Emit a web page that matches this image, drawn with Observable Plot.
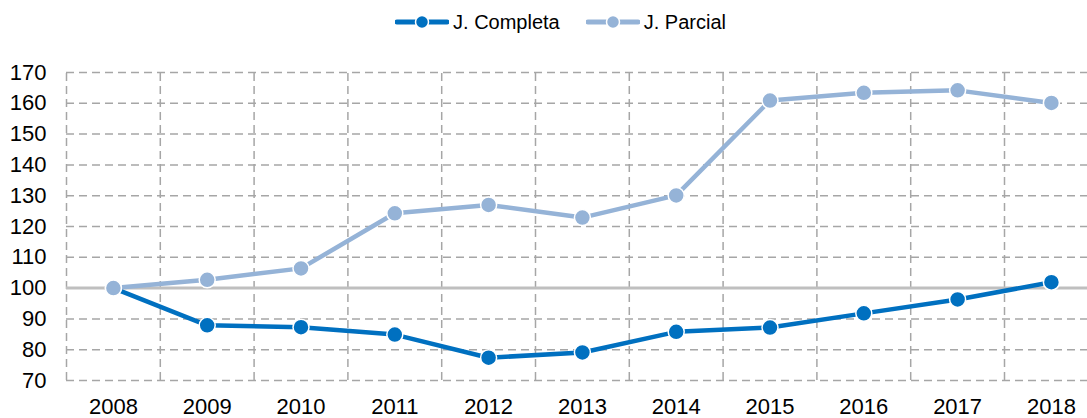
<!DOCTYPE html>
<html>
<head>
<meta charset="utf-8">
<script src="https://cdn.jsdelivr.net/npm/d3@7"></script>
<script src="https://cdn.jsdelivr.net/npm/@observablehq/plot@0.6"></script>
<style>
  html, body { margin: 0; padding: 0; background: #fff; }
  body { width: 1087px; height: 418px; overflow: hidden; font-family: "Liberation Sans", Arial, sans-serif; }
  #legend { height: 44px; display: flex; justify-content: center; align-items: center; gap: 26px; font-size: 20px; color: #000; padding-left: 34px; box-sizing: border-box; }
  .item { display: flex; align-items: center; gap: 4px; }
  #chart svg { display: block; }
</style>
</head>
<body>
<div id="legend"></div>
<div id="chart"></div>
<script>
const years = [2008, 2009, 2010, 2011, 2012, 2013, 2014, 2015, 2016, 2017, 2018];
const completa = [100, 87.9, 87.3, 84.9, 77.4, 79.1, 85.8, 87.2, 91.8, 96.3, 101.9];
const parcial = [100, 102.7, 106.4, 124.3, 127.0, 122.9, 130.1, 160.9, 163.4, 164.2, 160.1];
const seriesNames = ["J. Completa", "J. Parcial"];
const seriesColors = ["#0070C0", "#95B3D7"];
const yTicks = [70, 80, 90, 100, 110, 120, 130, 140, 150, 160, 170];

const table = [];
years.forEach((y, i) => table.push({year: y, value: completa[i], series: seriesNames[0]}));
years.forEach((y, i) => table.push({year: y, value: parcial[i], series: seriesNames[1]}));

const xBounds = years.map(y => y - 0.5);
const hGrid = yTicks.filter(v => v !== 100);

// legend
const legend = document.getElementById("legend");
seriesNames.forEach((name, i) => {
  const item = document.createElement("div");
  item.className = "item";
  item.innerHTML = `<svg width="54" height="16"><line x1="2" y1="8" x2="52" y2="8" stroke="${seriesColors[i]}" stroke-width="5" stroke-linecap="round"/><circle cx="27" cy="8" r="6.5" fill="${seriesColors[i]}" stroke="#fff" stroke-width="1.5"/></svg><span>${name}</span>`;
  legend.appendChild(item);
});

const chart = Plot.plot({
  width: 1087,
  height: 374,
  marginLeft: 66,
  marginRight: 0,
  marginTop: 28,
  marginBottom: 38,
  style: {fontFamily: '"Liberation Sans", Arial, sans-serif', fontSize: "22px", color: "#000", background: "#fff"},
  x: {domain: [2007.5, 2018.5], range: [66, 1097.8], label: null},
  y: {domain: [70, 170], label: null},
  color: {domain: seriesNames, range: seriesColors},
  marks: [
    Plot.ruleY(hGrid, {stroke: "#a6a6a6", strokeWidth: 1.5, strokeDasharray: "8,5"}),
    Plot.ruleX(xBounds, {y1: 70, y2: 170, stroke: "#a6a6a6", strokeWidth: 1.5, strokeDasharray: "8,5"}),
    Plot.ruleY([100], {stroke: "#bfbfbf", strokeWidth: 3}),
    Plot.line(table, {x: "year", y: "value", z: "series", stroke: "series", strokeWidth: 4.5}),
    Plot.dot(table, {x: "year", y: "value", fill: "series", r: 8, stroke: "#fff", strokeWidth: 1.5}),
    Plot.axisY({ticks: yTicks, tickSize: 0, tickPadding: 20, tickFormat: d => String(d), fontSize: 22, label: null}),
    Plot.axisX({ticks: years, tickSize: 0, tickPadding: 18, tickFormat: d => String(d), fontSize: 22, label: null})
  ]
});
document.getElementById("chart").appendChild(chart);
</script>
</body>
</html>
